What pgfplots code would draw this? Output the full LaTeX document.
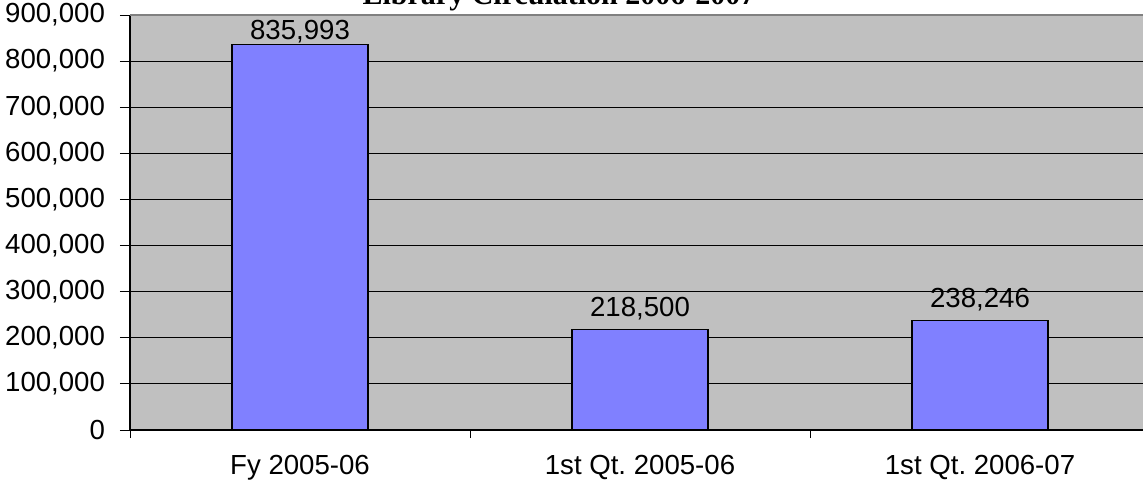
\documentclass[border=0pt]{standalone}
\usepackage{fontspec}
\setmainfont{Liberation Sans}
\newfontfamily\titlefont{Liberation Serif}
\usepackage{pgfplots}
\pgfplotsset{compat=1.18}
\definecolor{plotgray}{HTML}{C0C0C0}
\definecolor{barblue}{HTML}{8080FF}
\definecolor{framegray}{HTML}{808080}
\begin{document}
\frenchspacing
\begin{tikzpicture}[font=\fontsize{13.8}{16}\selectfont]
\begin{axis}[
  at={(0,0)}, anchor=south west,
  scale only axis,
  width=510pt, height=207.5pt,
  xmin=-0.5, xmax=2.5,
  ymin=0, ymax=900000,
  ytick distance=100000,
  scaled y ticks=false,
  /pgf/number format/fixed,
  /pgf/number format/1000 sep={,},
  /pgf/number format/assume math mode=true,
  xtick={0,1,2},
  xticklabels={Fy 2005-06, 1st Qt. 2005-06, 1st Qt. 2006-07},
  minor xtick={-0.5,0.5,1.5,2.5},
  tick align=outside,
  major tick length=5pt,
  minor tick length=4pt,
  major x tick style={draw=none},
  tick style={black, line width=0.5pt},
  axis x line*=bottom,
  axis y line*=left,
  axis line style={black, line width=0.6pt, -},
  axis background/.style={fill=plotgray},
  ymajorgrids,
  major grid style={black, line width=0.5pt},
  yticklabel style={xshift=-4pt},
  xticklabel style={yshift=-4pt},
  title={\titlefont\bfseries\fontsize{15}{17}\selectfont Library Circulation 2006-2007},
  every axis title/.style={at={(axis description cs:0.4206,1)}, anchor=base, yshift=5.5pt, inner sep=0pt},
  ybar, bar width=68pt, bar shift=0pt,
  nodes near coords,
  every node near coord/.append style={black, anchor=south, inner sep=0pt},
]
\addplot[fill=barblue, draw=black, line width=0.6pt,
  every node near coord/.append style={yshift=0.5pt}]
  coordinates {(0,835993)};
\addplot[fill=barblue, draw=black, line width=0.6pt,
  every node near coord/.append style={yshift=4.5pt}]
  coordinates {(1,218500) (2,238246)};
\end{axis}
\draw[framegray, line width=1pt] (0,207.5pt) -- (510pt,207.5pt);
\pgfresetboundingbox
\path[use as bounding box] (-65pt,-26.5pt) rectangle (506.5pt,215pt);
\end{tikzpicture}
\end{document}
